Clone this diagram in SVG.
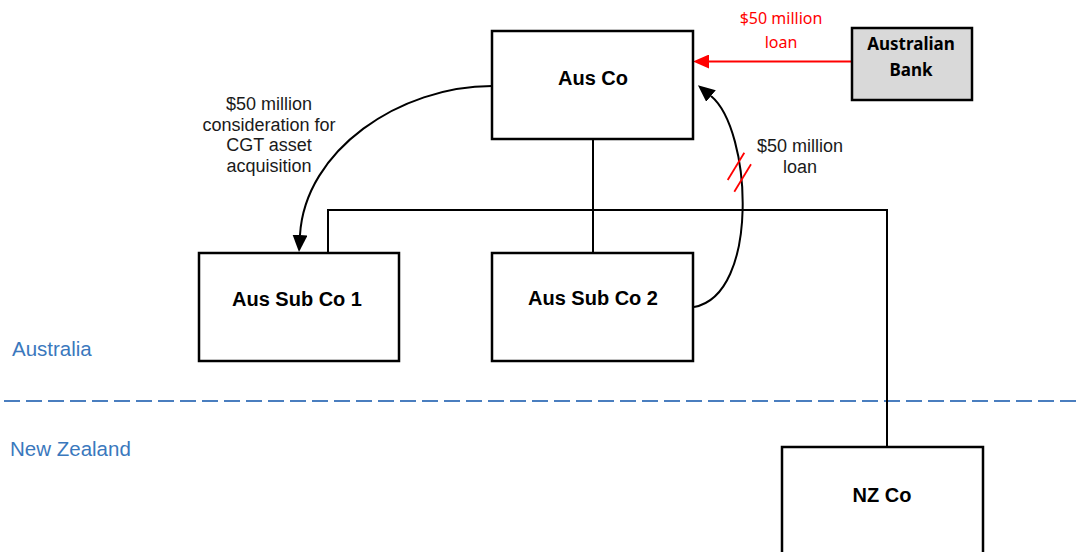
<svg xmlns="http://www.w3.org/2000/svg" width="1081" height="552" viewBox="0 0 1081 552">
  <style>
    .box { fill: #ffffff; stroke: #000000; stroke-width: 2.5; }
    .bank { fill: #d9d9d9; stroke: #000000; stroke-width: 2.5; }
    .name { font-family: "Liberation Sans", Arial, sans-serif; font-size: 20px; font-weight: bold; fill: #000000; text-anchor: middle; }
    .bankname { font-family: "Noto Sans", "Open Sans", sans-serif; font-size: 17px; font-weight: bold; fill: #000000; text-anchor: middle; }
    .link { fill: none; stroke: #000000; stroke-width: 2; }
    .flow { fill: none; stroke: #000000; stroke-width: 2; }
    .label { font-family: "Liberation Sans", Arial, sans-serif; font-size: 18px; fill: #1a1a1a; text-anchor: middle; }
    .redlabel { font-family: "Noto Sans", "Open Sans", sans-serif; font-size: 16px; fill: #ff0000; text-anchor: middle; }
    .region { font-family: "Liberation Sans", Arial, sans-serif; font-size: 20.5px; fill: #3a78bd; }
  </style>
  <defs>
    <marker id="arrowBlack" viewBox="0 0 17 15" refX="0" refY="7.5" markerWidth="17" markerHeight="15" markerUnits="userSpaceOnUse" orient="auto">
      <path d="M0,0 L17,7.5 L0,15 z" fill="#000000"/>
    </marker>
    <marker id="arrowRed" viewBox="0 0 16 14" refX="0" refY="7" markerWidth="16" markerHeight="14" markerUnits="userSpaceOnUse" orient="auto">
      <path d="M0,0 L16,7 L0,14 z" fill="#ff0000"/>
    </marker>
  </defs>

  <rect width="1081" height="552" fill="#ffffff"/>

  <!-- border between jurisdictions -->
  <g id="border">
    <line x1="4" y1="401" x2="1081" y2="401" stroke="#4a7ebf" stroke-width="2.2" stroke-dasharray="16,6"/>
    <text class="region" x="12" y="356">Australia</text>
    <text class="region" x="10" y="456">New Zealand</text>
  </g>

  <!-- connectors -->
  <g id="connectors">
    <!-- ownership structure -->
    <line class="link" x1="593" y1="139" x2="593" y2="253"/>
    <polyline class="link" points="328,253 328,210 887,210 887,447"/>
    <!-- consideration flow -->
    <path class="flow" d="M492,86 C400,86 305,150 300,235" marker-end="url(#arrowBlack)"/>
    <!-- intra-group loan -->
    <path class="flow" d="M694,307 C760,295 752,130 711,96" marker-end="url(#arrowBlack)"/>
    <line x1="727.7" y1="180" x2="744.3" y2="152.7" stroke="#ff0000" stroke-width="1.8"/>
    <line x1="734.3" y1="191.7" x2="751" y2="164.3" stroke="#ff0000" stroke-width="1.8"/>
    <!-- bank loan -->
    <line x1="852" y1="61.5" x2="709" y2="61.5" stroke="#ff0000" stroke-width="2" marker-end="url(#arrowRed)"/>
  </g>

  <!-- flow labels -->
  <g id="labels">
    <text class="label" x="269" y="110">$50 million</text>
    <text class="label" x="269" y="130.5">consideration for</text>
    <text class="label" x="269" y="151">CGT asset</text>
    <text class="label" x="269" y="171.5">acquisition</text>
    <text class="label" x="800" y="152">$50 million</text>
    <text class="label" x="800" y="172.5">loan</text>
    <text class="redlabel" x="781" y="24">$50 million</text>
    <text class="redlabel" x="781" y="47.5">loan</text>
  </g>

  <g id="aus-co">
    <rect class="box" x="492" y="31" width="201" height="108"/>
    <text class="name" x="593" y="85">Aus Co</text>
  </g>

  <g id="australian-bank">
    <rect class="bank" x="852" y="28" width="120" height="72"/>
    <text class="bankname" x="911" y="50">Australian</text>
    <text class="bankname" x="911" y="76">Bank</text>
  </g>

  <g id="aus-sub-co-1">
    <rect class="box" x="199" y="253" width="200" height="108"/>
    <text class="name" x="297" y="306">Aus Sub Co 1</text>
  </g>

  <g id="aus-sub-co-2">
    <rect class="box" x="492" y="253" width="201" height="108"/>
    <text class="name" x="593" y="305">Aus Sub Co 2</text>
  </g>

  <g id="nz-co">
    <rect class="box" x="782" y="447" width="201" height="120"/>
    <text class="name" x="882" y="502">NZ Co</text>
  </g>
</svg>
